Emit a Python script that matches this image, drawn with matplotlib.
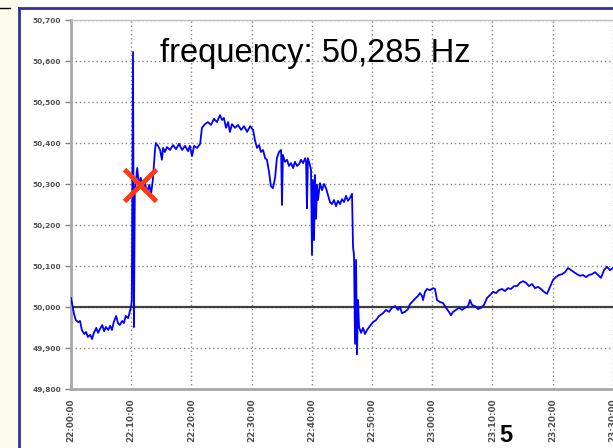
import matplotlib
matplotlib.use("Agg")
import matplotlib.pyplot as plt
from matplotlib.lines import Line2D
from matplotlib.patches import Rectangle

# ---------------- data (minutes after 22:00:00, frequency in Hz) ----------------
times_min = [
    0.0, 0.2, 0.5, 0.8, 1.2, 1.5, 1.8, 2.2, 2.5, 2.8, 3.2, 3.5, 3.8, 4.2, 4.5, 4.8,
    5.2, 5.5, 5.8, 6.2, 6.5, 6.8, 7.1, 7.5, 7.8, 8.1, 8.5, 8.8, 9.1, 9.5, 9.8, 10.0,
    10.1, 10.3, 10.45, 10.6, 11.0, 11.3, 11.6, 12.0, 12.3, 12.6, 13.0, 13.3, 13.6,
    13.95, 14.1, 14.45, 14.8, 15.1, 15.3, 15.6, 15.95, 16.45, 16.95, 17.45, 17.95,
    18.45, 18.95, 19.45, 19.75, 20.1, 20.45, 20.95, 21.45, 21.75, 22.25, 22.75,
    23.25, 23.75, 24.25, 24.75, 25.1, 25.4, 25.75, 26.1, 26.4, 26.75, 27.25, 27.75,
    28.25, 28.75, 29.25, 29.75, 30.25, 30.55, 30.9, 31.25, 31.55, 31.9, 32.25,
    32.55, 32.9, 33.2, 33.55, 33.9, 34.2, 34.55, 34.9, 35.05, 35.2, 35.55, 35.9,
    36.2, 36.55, 36.9, 37.2, 37.55, 37.9, 38.2, 38.55, 38.9, 39.05, 39.2, 39.35,
    39.7, 39.87, 40.03, 40.2, 40.37, 40.53, 40.7, 40.86, 41.03, 41.36, 41.7, 42.03,
    42.36, 42.69, 43.02, 43.35, 43.69, 44.02, 44.35, 44.68, 45.02, 45.35, 45.68,
    46.01, 46.35, 46.68, 46.85, 47.01, 47.18, 47.35, 47.51, 47.68, 47.85, 48.18,
    48.51, 48.84, 49.17, 49.67, 50.17, 50.66, 51.16, 51.83, 52.33, 52.82, 53.32,
    53.82, 54.32, 54.65, 54.98, 55.48, 55.98, 56.31, 56.64, 57.14, 57.64, 57.97,
    58.31, 58.47, 58.8, 59.14, 59.63, 60.13, 60.46, 60.8, 61.3, 61.79, 62.29, 62.79,
    63.12, 63.46, 63.95, 64.45, 64.95, 65.45, 65.95, 66.28, 66.61, 67.11, 67.61,
    68.11, 68.6, 69.1, 69.6, 70.1, 70.6, 71.1, 71.59, 72.09, 72.59, 73.09, 73.59,
    74.09, 74.58, 75.08, 75.58, 76.08, 76.58, 77.08, 77.57, 78.07, 78.57, 79.07,
    79.57, 80.07, 80.56, 81.06, 81.56, 82.06, 82.56, 83.06, 83.55, 84.05, 84.55,
    85.05, 85.55, 86.05, 86.54, 87.04, 87.54, 88.04, 88.54, 89.04, 89.53, 90.03,
]
freq_hz = [
    50.022, 50.007, 49.983, 49.968, 49.963, 49.966, 49.944, 49.934, 49.939, 49.927,
    49.932, 49.922, 49.937, 49.949, 49.937, 49.946, 49.956, 49.941, 49.951, 49.944,
    49.954, 49.944, 49.963, 49.978, 49.961, 49.956, 49.966, 49.961, 49.978, 49.973,
    49.990, 50.002, 50.017, 50.622, 49.951, 50.280, 50.339, 50.298, 50.315, 50.285,
    50.302, 50.278, 50.298, 50.276, 50.310, 50.383, 50.400, 50.393, 50.383, 50.359,
    50.388, 50.378, 50.390, 50.383, 50.395, 50.385, 50.398, 50.383, 50.393, 50.380,
    50.393, 50.368, 50.393, 50.388, 50.398, 50.437, 50.446, 50.451, 50.444, 50.459,
    50.451, 50.468, 50.456, 50.461, 50.437, 50.451, 50.427, 50.446, 50.437, 50.444,
    50.432, 50.441, 50.427, 50.441, 50.432, 50.407, 50.388, 50.395, 50.378, 50.383,
    50.363, 50.359, 50.329, 50.295, 50.290, 50.315, 50.363, 50.378, 50.383, 50.249,
    50.371, 50.354, 50.359, 50.344, 50.351, 50.339, 50.354, 50.344, 50.349, 50.359,
    50.351, 50.363, 50.354, 50.241, 50.363, 50.346, 50.334, 50.127, 50.310, 50.163,
    50.322, 50.215, 50.298, 50.261, 50.302, 50.285, 50.300, 50.290, 50.273, 50.256,
    50.251, 50.261, 50.246, 50.259, 50.251, 50.263, 50.256, 50.271, 50.259, 50.266,
    50.276, 50.146, 50.127, 49.910, 50.115, 49.885, 50.017, 49.951, 49.937, 49.949,
    49.934, 49.944, 49.954, 49.963, 49.968, 49.978, 49.985, 49.993, 49.988, 49.998,
    50.002, 49.993, 50.000, 49.985, 49.988, 49.995, 50.007, 50.012, 50.020, 50.027,
    50.034, 50.027, 50.017, 50.037, 50.044, 50.041, 50.046, 50.044, 50.017, 50.012,
    50.010, 49.998, 49.988, 49.980, 49.988, 49.993, 49.998, 49.993, 49.998, 50.002,
    50.017, 50.005, 50.002, 49.995, 49.998, 50.005, 50.022, 50.029, 50.037, 50.034,
    50.041, 50.044, 50.039, 50.046, 50.044, 50.051, 50.051, 50.059, 50.063, 50.059,
    50.051, 50.056, 50.046, 50.049, 50.044, 50.037, 50.032, 50.049, 50.066, 50.073,
    50.078, 50.080, 50.085, 50.095, 50.090, 50.085, 50.080, 50.076, 50.078, 50.073,
    50.078, 50.080, 50.085, 50.078, 50.071, 50.090, 50.098, 50.090, 50.095,
]

ytick_values = [49.8, 49.9, 50.0, 50.1, 50.2, 50.3, 50.4, 50.5, 50.6, 50.7]
xtick_minutes = [0, 10, 20, 30, 40, 50, 60, 70, 80, 90]
xtick_labels = ["22:00:00", "22:10:00", "22:20:00", "22:30:00", "22:40:00",
                "22:50:00", "23:00:00", "23:10:00", "23:20:00", "23:30:00"]
nominal_hz = 50.0
cross_time = [11.5]
cross_freq = [50.298]
title_text = "frequency: 50,285 Hz"
page_number = "5"

# ---------------- figure ----------------
W, H = 613, 448
fig = plt.figure(figsize=(W / 100, H / 100), dpi=100)
fig.patch.set_facecolor("white")

# slide decorations
fig.add_artist(Rectangle((0, 0), 18 / W, 1, transform=fig.transFigure,
                         facecolor="#FBFBEC", edgecolor="none", zorder=0))
fig.add_artist(Line2D([19 / W, 19 / W], [0, 1 - 8 / H], transform=fig.transFigure,
                      color="#33339A", lw=2.0))
fig.add_artist(Line2D([19 / W, 1], [1 - 8 / H, 1 - 8 / H], transform=fig.transFigure,
                      color="#33339A", lw=2.0))
fig.add_artist(Line2D([0, 10 / W], [1 - 8 / H, 1 - 8 / H], transform=fig.transFigure,
                      color="black", lw=1.0))

# axes: left at 71 px, bottom at 389 px, top at 20 px; 10 min = 60.2 px
x0, x1 = 71, 71 + 6.02 * 91
ax = fig.add_axes([x0 / W, (H - 389) / H, (x1 - x0) / W, (389 - 20) / H])
ax.set_xlim(0, 91)
ax.set_ylim(49.8, 50.7)
ax.set_facecolor("white")

ax.spines["right"].set_visible(False)
ax.spines["left"].set_color("#A8A8A8")
ax.spines["left"].set_linewidth(2.0)
ax.spines["bottom"].set_color("#A8A8A8")
ax.spines["bottom"].set_linewidth(2.0)
ax.spines["top"].set_color("#C0C0C0")
ax.spines["top"].set_linewidth(1.0)

ax.set_yticks(ytick_values)
ax.set_yticklabels([f"{v:.3f}".replace(".", ",") for v in ytick_values],
                   fontsize=5.3, fontweight="bold", color="#505050",
                   family="DejaVu Sans")
ax.set_xticks(xtick_minutes)
ax.set_xticklabels(xtick_labels, rotation=90, fontsize=6.3, fontweight="bold",
                   color="#505050", family="DejaVu Sans", va="top", ha="center")
ax.tick_params(axis="y", length=4, width=1, color="#808080", pad=3)
ax.tick_params(axis="x", length=0, pad=7)

ax.grid(True, color="#888888", linestyle=(0, (1, 2)), linewidth=1.0)
ax.set_axisbelow(True)

ax.axhline(nominal_hz, color="#404040", lw=1.6, zorder=2)
ax.plot(times_min, freq_hz, color="#0000FF", lw=1.3, zorder=3)
ax.plot(cross_time, cross_freq, marker="x", linestyle="none", color="#FF3A10",
        markersize=23, markeredgewidth=3.5, zorder=4)

fig.text(160 / W, (H - 62) / H, title_text, fontsize=23.5, family="Liberation Sans",
         color="black", va="baseline", ha="left")
fig.text(499 / W, 1 / H, page_number, fontsize=17, fontweight="bold",
         family="Liberation Sans", color="black", va="bottom", ha="left")

fig.savefig("out.png", dpi=100)
